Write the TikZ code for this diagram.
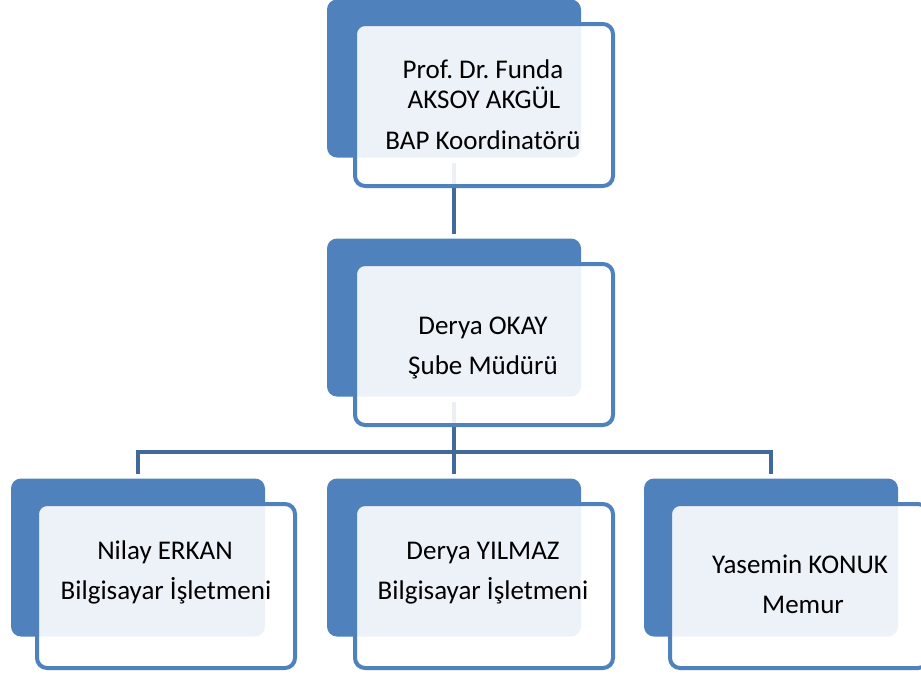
\documentclass[tikz,border=0pt]{standalone}
\usepackage{fontspec}
\setmainfont{Carlito}
\frenchspacing
\definecolor{boxblue}{HTML}{4F81BD}
\definecolor{linkblue}{HTML}{41699C}
\begin{document}
\begin{tikzpicture}[x=1pt,y=-1pt,
  backbox/.style={fill=boxblue, rounded corners=10pt, inner sep=0pt, outer sep=0pt,
    minimum width=254pt, minimum height=158pt},
  frontbox/.style={draw=boxblue, line width=4pt, fill=white, fill opacity=0.9,
    rounded corners=10pt, inner sep=0pt, outer sep=0pt,
    minimum width=258pt, minimum height=163pt},
  link/.style={draw=linkblue, line width=4.5pt},
  lbl/.style={anchor=base, inner sep=0pt, font=\fontsize{27}{32}\selectfont, text=black}]
\useasboundingbox (0,0) rectangle (921,673);
\clip (0,0) rectangle (921,673);
% back boxes
\node[backbox] (tb) at (454,78.5) {};
\node[backbox] (mb) at (454,317.5) {};
\node[backbox] (lb) at (138,557.5) {};
\node[backbox] (cb) at (454,557.5) {};
\node[backbox] (rb) at (771,557.5) {};
% connectors
\coordinate (jn) at (454,452);
\draw[link] ([yshift=-5pt]tb.south) -- ([yshift=5pt]mb.north);
\draw[link] ([yshift=-5pt]mb.south) -- ([yshift=5pt]cb.north);
\draw[link] ([yshift=5pt]lb.north) |- (jn) -| ([yshift=5pt]rb.north);
% front boxes
\node[frontbox, minimum height=162pt] (tf) at (484,105) {};
\node[frontbox, minimum height=161pt] (mf) at (484,344.5) {};
\node[frontbox, minimum height=164pt] (lf) at (166,586) {};
\node[frontbox, minimum height=164pt] (cf) at (484,586) {};
\node[frontbox, minimum height=164pt] (rf) at (799,586) {};
% texts
\node[lbl] (t1) at (483,78) {Prof. Dr. Funda};
\node[lbl] (t2) at (484,108) {AKSOY AKGÜL};
\node[lbl] (t3) at (483,149) {BAP Koordinatörü};
\node[lbl] (m1) at (483,334) {Derya OKAY};
\node[lbl] (m2) at (483,374) {Şube Müdürü};
\node[lbl] (l1) at (165,559) {Nilay ERKAN};
\node[lbl] (l2) at (166,599) {Bilgisayar İşletmeni};
\node[lbl] (c1) at (483,559) {Derya YILMAZ};
\node[lbl] (c2) at (483,599) {Bilgisayar İşletmeni};
\node[lbl] (r1) at (800,573) {Yasemin KONUK};
\node[lbl] (r2) at (803,613) {Memur};
\end{tikzpicture}
\end{document}
